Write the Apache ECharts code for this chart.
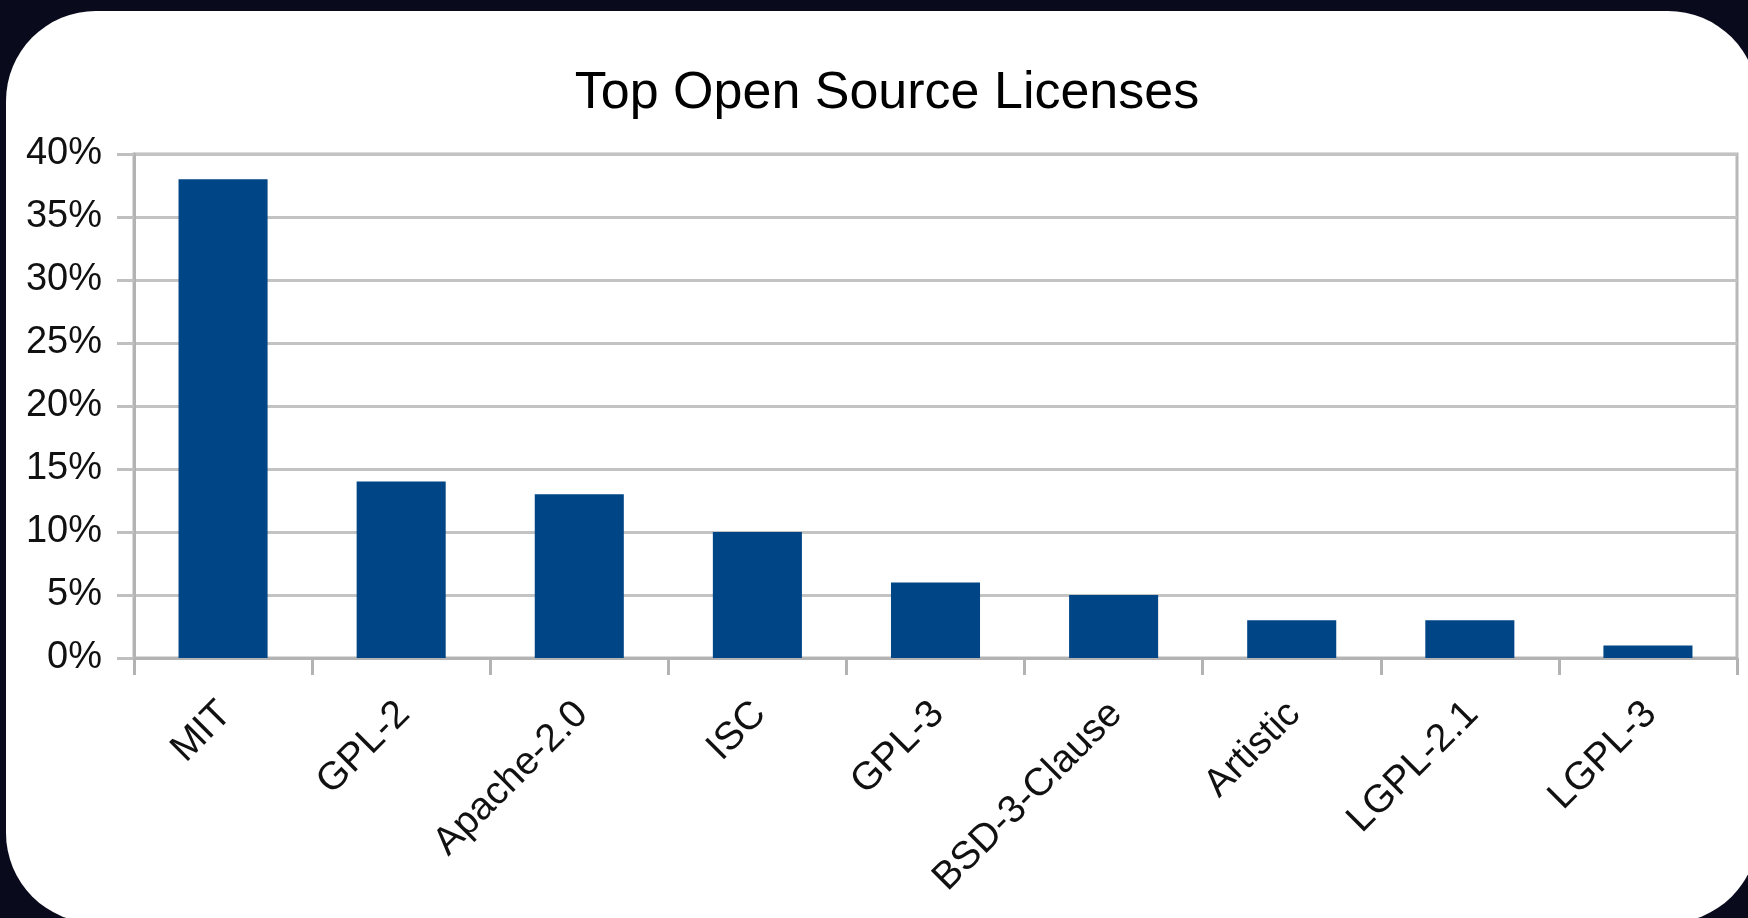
<!DOCTYPE html>
<html>
<head>
<meta charset="utf-8">
<script src="https://cdn.jsdelivr.net/npm/echarts@6/dist/echarts.min.js"></script>
<style>
html,body{margin:0;padding:0;background:#090b1d;overflow:hidden;}
#chart{width:1748px;height:918px;}
</style>
</head>
<body>
<div id="chart"></div>
<script>
const titleText = 'Top Open Source Licenses';
const categories = ['MIT','GPL-2','Apache-2.0','ISC','GPL-3','BSD-3-Clause','Artistic','LGPL-2.1','LGPL-3'];
const shares = [38, 14, 13, 10, 6, 5, 3, 3, 1];
const yTicks = [0, 5, 10, 15, 20, 25, 30, 35, 40];

const chart = echarts.init(document.getElementById('chart'), null, {renderer:'canvas'});
const FONT = 'Liberation Sans';
chart.setOption({
  backgroundColor: '#090b1d',
  animation: false,
  graphic: [{
    type: 'rect', z: -10, silent: true,
    shape: {x: 6, y: 11, width: 1752, height: 912, r: 90},
    style: {fill: '#ffffff'}
  }],
  title: {
    text: titleText,
    left: 882, top: 63, textAlign: 'center',
    textStyle: {fontFamily: FONT, fontSize: 52, fontWeight: 'normal', color: '#000'}
  },
  grid: {
    left: 134, right: 11, top: 154, bottom: 260,
    show: true, borderColor: '#b8b8b8', borderWidth: 3, backgroundColor: 'transparent',
    containLabel: false
  },
  xAxis: {
    type: 'category',
    data: categories,
    boundaryGap: true,
    axisLine: {show: true, lineStyle: {color: '#b3b3b3', width: 3}},
    axisTick: {show: true, length: 17, lineStyle: {color: '#b3b3b3', width: 3}},
    axisLabel: {
      rotate: 45, interval: 0, margin: 25, align: 'right', verticalAlign: 'top',
      padding: [0, 16, 0, 0],
      fontFamily: FONT, fontSize: 39, color: '#111'
    }
  },
  yAxis: {
    type: 'value',
    min: yTicks[0], max: yTicks[yTicks.length - 1], interval: yTicks[1] - yTicks[0],
    axisLine: {show: true, lineStyle: {color: '#b3b3b3', width: 3}},
    axisTick: {show: true, length: 17, lineStyle: {color: '#c0c0c0', width: 3}},
    splitLine: {show: true, lineStyle: {color: '#c3c3c3', width: 3}},
    axisLabel: {
      margin: 32, formatter: '{value}%',
      fontFamily: FONT, fontSize: 38, color: '#111'
    }
  },
  series: [{
    type: 'bar',
    data: shares,
    barWidth: '50%',
    itemStyle: {color: '#004586'}
  }]
});
</script>
</body>
</html>
